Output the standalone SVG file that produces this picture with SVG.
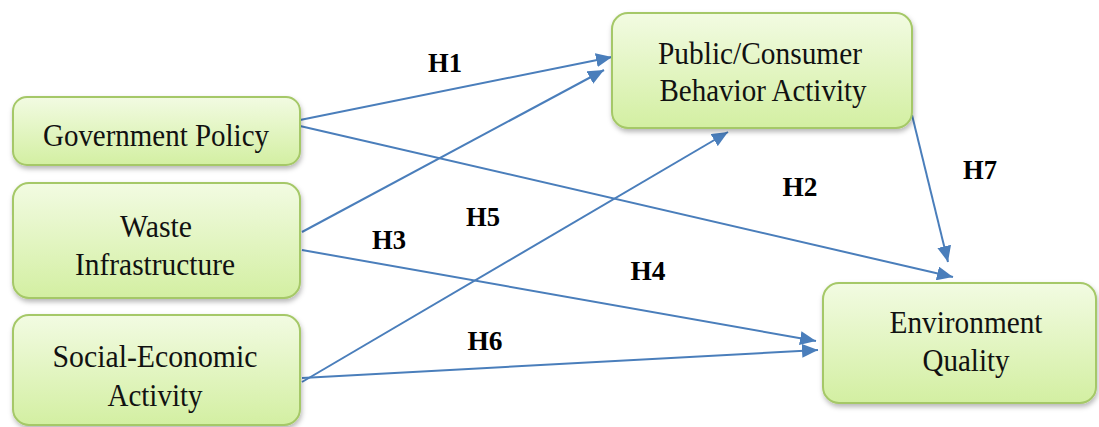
<svg xmlns="http://www.w3.org/2000/svg" width="1099" height="427" viewBox="0 0 1099 427">
<defs>
<linearGradient id="g" x1="0" y1="0" x2="0" y2="1">
<stop offset="0" stop-color="#f2fbe2"/>
<stop offset="1" stop-color="#d3efa2"/>
</linearGradient>
<filter id="sh" x="-10%" y="-10%" width="120%" height="130%">
<feDropShadow dx="1" dy="3" stdDeviation="2.5" flood-color="#000" flood-opacity="0.28"/>
</filter>
<marker id="ah" markerUnits="userSpaceOnUse" markerWidth="18" markerHeight="14" refX="16" refY="7" orient="auto">
<path d="M0,0 L16,7 L0,14 Z" fill="#4a7ebb"/>
</marker>
<style>
.box{fill:url(#g);stroke:#a5c867;stroke-width:2;filter:url(#sh)}
.c{stroke:#4a7ebb;stroke-width:2;fill:none;marker-end:url(#ah)}
</style>
</defs>
<rect width="1099" height="427" fill="#fff"/>
<g id="connectors">
<line class="c" x1="300" y1="120" x2="612" y2="57"/>
<line class="c" x1="300" y1="126" x2="953" y2="277"/>
<line class="c" x1="302" y1="232" x2="604" y2="70"/>
<line class="c" x1="302" y1="250" x2="816" y2="341"/>
<line class="c" x1="302" y1="382" x2="728" y2="132"/>
<line class="c" x1="302" y1="378" x2="818" y2="350"/>
<line class="c" x1="912" y1="115" x2="948" y2="262"/>
</g>
<g font-family="Liberation Serif, DejaVu Serif, serif" font-size="32" fill="#111" text-anchor="middle">
<g id="gov">
<rect class="box" x="13" y="97" width="287" height="68" rx="14"/>
<text x="156" y="146" textLength="226" lengthAdjust="spacingAndGlyphs">Government Policy</text>
</g>
<g id="waste">
<rect class="box" x="13" y="183" width="287" height="115" rx="16"/>
<text x="156" y="237" textLength="72" lengthAdjust="spacingAndGlyphs">Waste</text>
<text x="155" y="275" textLength="160" lengthAdjust="spacingAndGlyphs">Infrastructure</text>
</g>
<g id="social">
<rect class="box" x="13" y="315" width="287" height="110" rx="16"/>
<text x="155" y="367" textLength="205" lengthAdjust="spacingAndGlyphs">Social-Economic</text>
<text x="155" y="406" textLength="95" lengthAdjust="spacingAndGlyphs">Activity</text>
</g>
<g id="pcb">
<rect class="box" x="612" y="13" width="300" height="115" rx="16"/>
<text x="760" y="64" textLength="204" lengthAdjust="spacingAndGlyphs">Public/Consumer</text>
<text x="763" y="101" textLength="207" lengthAdjust="spacingAndGlyphs">Behavior Activity</text>
</g>
<g id="env">
<rect class="box" x="823" y="283" width="273" height="120" rx="16"/>
<text x="966" y="333" textLength="153" lengthAdjust="spacingAndGlyphs">Environment</text>
<text x="966" y="371" textLength="87" lengthAdjust="spacingAndGlyphs">Quality</text>
</g>
</g>
<g id="labels" font-family="Liberation Serif, DejaVu Serif, serif" font-size="28" font-weight="bold" fill="#000" text-anchor="middle">
<text x="445" y="72" textLength="34" lengthAdjust="spacingAndGlyphs">H1</text>
<text x="800" y="196" textLength="35" lengthAdjust="spacingAndGlyphs">H2</text>
<text x="389" y="249" textLength="34" lengthAdjust="spacingAndGlyphs">H3</text>
<text x="648" y="280" textLength="35" lengthAdjust="spacingAndGlyphs">H4</text>
<text x="483" y="226" textLength="34" lengthAdjust="spacingAndGlyphs">H5</text>
<text x="485" y="350" textLength="35" lengthAdjust="spacingAndGlyphs">H6</text>
<text x="980" y="179" textLength="34" lengthAdjust="spacingAndGlyphs">H7</text>
</g>
</svg>
